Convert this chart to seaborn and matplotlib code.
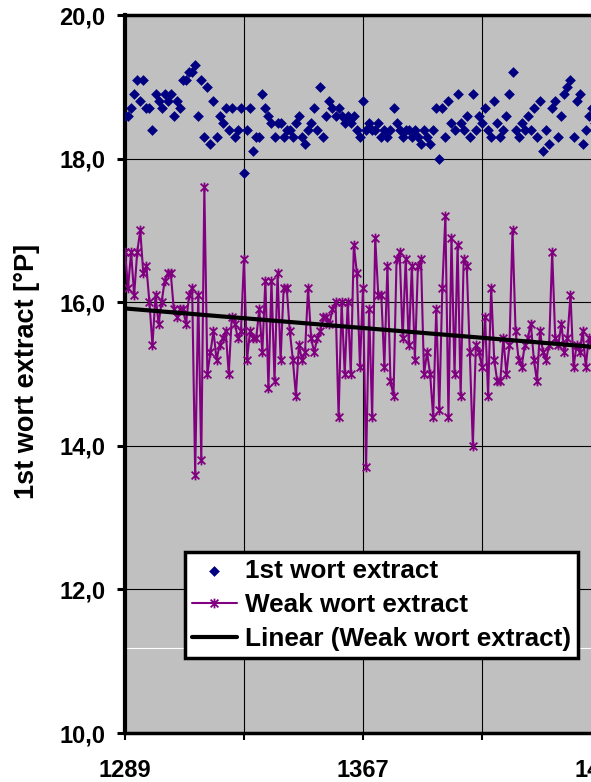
import numpy as np
import pandas as pd
import matplotlib
matplotlib.use("Agg")
import matplotlib.pyplot as plt
from matplotlib.path import Path
from matplotlib.ticker import FixedLocator, FixedFormatter
import seaborn as sns

# ---------------- data ----------------
batch_start = 1289
first_wort = [
    18.6, 18.6, 18.7, 18.9, 19.1, 18.8, 19.1, 18.7, 18.7, 18.4,
    18.9, 18.8, 18.7, 18.9, 18.8, 18.9, 18.6, 18.8, 18.7, 19.1,
    19.1, 19.2, 19.2, 19.3, 18.6, 19.1, 18.3, 19.0, 18.2, 18.8,
    18.3, 18.6, 18.5, 18.7, 18.4, 18.7, 18.3, 18.4, 18.7, 17.8,
    18.4, 18.7, 18.1, 18.3, 18.3, 18.9, 18.7, 18.6, 18.5, 18.3,
    18.5, 18.5, 18.3, 18.4, 18.4, 18.3, 18.5, 18.6, 18.3, 18.2,
    18.4, 18.5, 18.7, 18.4, 19.0, 18.3, 18.6, 18.8, 18.7, 18.6,
    18.7, 18.6, 18.5, 18.6, 18.5, 18.6, 18.4, 18.3, 18.8, 18.4,
    18.5, 18.4, 18.4, 18.5, 18.3, 18.4, 18.3, 18.4, 18.7, 18.5,
    18.4, 18.3, 18.4, 18.4, 18.3, 18.4, 18.3, 18.2, 18.4, 18.3,
    18.2, 18.4, 18.7, 18.0, 18.7, 18.3, 18.8, 18.5, 18.4, 18.9,
    18.5, 18.4, 18.6, 18.3, 18.9, 18.4, 18.6, 18.5, 18.7, 18.4,
    18.3, 18.8, 18.5, 18.3, 18.4, 18.6, 18.9, 19.2, 18.4, 18.3,
    18.5, 18.4, 18.6, 18.4, 18.7, 18.3, 18.8, 18.1, 18.4, 18.2,
    18.7, 18.8, 18.3, 18.6, 18.9, 19.0, 19.1, 18.3, 18.8, 18.9,
    18.2, 18.4, 18.6, 18.7, 18.5, 18.3, 18.6,
]
weak_wort = [
    16.7, 16.2, 16.7, 16.1, 16.7, 17.0, 16.4, 16.5, 16.0, 15.4,
    16.1, 15.7, 16.0, 16.3, 16.4, 16.4, 15.9, 15.8, 15.9, 15.9,
    15.7, 16.1, 16.2, 13.6, 16.1, 13.8, 17.6, 15.0, 15.3, 15.6,
    15.2, 15.4, 15.5, 15.6, 15.0, 15.8, 15.7, 15.5, 15.6, 16.6,
    15.2, 15.6, 15.5, 15.5, 15.9, 15.3, 16.3, 14.8, 16.3, 14.9,
    16.4, 15.2, 16.2, 16.2, 15.6, 15.2, 14.7, 15.4, 15.2, 15.3,
    16.2, 15.5, 15.3, 15.5, 15.6, 15.8, 15.8, 15.7, 15.9, 16.0,
    14.4, 16.0, 15.0, 16.0, 15.0, 16.8, 16.4, 15.1, 16.2, 13.7,
    15.9, 14.4, 16.9, 16.1, 16.1, 15.1, 16.5, 14.9, 14.7, 16.6,
    16.7, 15.5, 16.6, 15.4, 16.5, 15.2, 16.5, 16.6, 15.0, 15.3,
    15.0, 14.4, 15.9, 14.5, 16.2, 17.2, 14.4, 16.9, 15.0, 16.8,
    14.7, 16.6, 16.5, 15.3, 14.0, 15.4, 15.3, 15.1, 15.8, 14.7,
    16.2, 15.2, 14.9, 14.9, 15.5, 15.0, 15.4, 17.0, 15.6, 15.2,
    15.1, 15.4, 15.5, 15.7, 15.2, 14.9, 15.6, 15.3, 15.2, 15.4,
    16.7, 15.5, 15.4, 15.7, 15.3, 15.5, 16.1, 15.1, 15.4, 15.3,
    15.6, 15.1, 15.5, 15.4, 15.2, 15.5, 15.3,
]
x_major_ticks = [1289, 1367, 1445]
x_minor_ticks = [1328, 1406, 1484]
y_ticks = [10, 12, 14, 16, 18, 20]
y_tick_labels = ["10,0", "12,0", "14,0", "16,0", "18,0", "20,0"]
series_labels = ["1st wort extract", "Weak wort extract", "Linear (Weak wort extract)"]
y_label = "1st wort extract [°P]"

batch = np.arange(batch_start, batch_start + len(first_wort))
df = pd.DataFrame({"batch": batch, "first": first_wort, "weak": weak_wort})

# ---------------- style ----------------
sns.set_theme(style="white")
plt.rcParams["font.family"] = ["Liberation Sans", "DejaVu Sans"]
plt.rcParams["font.weight"] = "bold"
plt.rcParams["text.color"] = "black"

W, H = 591, 782
fig = plt.figure(figsize=(W / 100, H / 100), dpi=100)
px_per_unit = (363 - 125) / 78.0
xmin, xmax = 1289, 1523
ax_w = (xmax - xmin) * px_per_unit
ax = fig.add_axes([125 / W, 1 - 733 / H, ax_w / W, (733 - 15) / H])
ax.set_facecolor("#C0C0C0")

# asterisk-like star marker (X plus vertical bar)
star = Path([(-1, -1), (1, 1), (-1, 1), (1, -1), (0, -1.25), (0, 1.25)],
            [Path.MOVETO, Path.LINETO, Path.MOVETO, Path.LINETO, Path.MOVETO, Path.LINETO])

sns.scatterplot(data=df, x="batch", y="first", marker="D", s=30, color="#000080",
                edgecolor="#000080", linewidth=0, ax=ax, label=series_labels[0], zorder=3)
sns.lineplot(data=df, x="batch", y="weak", color="#800080", lw=1.5, marker=star,
             markersize=7, markeredgewidth=1.3, markeredgecolor="#800080",
             ax=ax, label=series_labels[1], zorder=4)
sns.regplot(data=df, x="batch", y="weak", scatter=False, ci=None, ax=ax, truncate=True,
            label=series_labels[2], line_kws=dict(color="black", lw=3, zorder=5))

ax.axhline(11.18, color="white", lw=0.8, zorder=1)

ax.set_xlim(xmin, xmax)
ax.set_ylim(10, 20)
ax.xaxis.set_major_locator(FixedLocator(x_major_ticks))
ax.xaxis.set_minor_locator(FixedLocator(x_minor_ticks))
ax.set_xticklabels([str(v) for v in x_major_ticks])
ax.yaxis.set_major_locator(FixedLocator(y_ticks))
ax.yaxis.set_major_formatter(FixedFormatter(y_tick_labels))

ax.grid(True, which="both", color="black", lw=0.8)
ax.set_axisbelow(True)

for side in ["left", "top", "bottom", "right"]:
    ax.spines[side].set_color("black")
ax.spines["left"].set_linewidth(3)
ax.spines["top"].set_linewidth(2.5)
ax.spines["bottom"].set_linewidth(2.5)
ax.spines["right"].set_linewidth(2.5)

ax.tick_params(axis="y", which="major", direction="out", length=6, width=2.2,
               labelsize=17, pad=8, left=True, colors="black")
ax.tick_params(axis="x", which="both", direction="out", length=5, width=1.5,
               labelsize=17, pad=14, bottom=True, colors="black")
for t in ax.get_xticklabels() + ax.get_yticklabels():
    t.set_fontweight("bold")

ax.set_xlabel("")
ax.set_ylabel(y_label, fontsize=19.5, fontweight="bold", color="black")
ax.yaxis.set_label_coords(40 / W, 1 - 371 / H, transform=fig.transFigure)

handles, labels = ax.get_legend_handles_labels()
hmap = dict(zip(labels, handles))
if series_labels[2] not in hmap:
    hmap[series_labels[2]] = ax.lines[-2]
leg = ax.legend([hmap[l] for l in series_labels], series_labels,
                loc="upper left", bbox_to_anchor=(185 / W, 1 - 552 / H),
                bbox_transform=fig.transFigure, borderaxespad=0,
                frameon=True, fancybox=False, framealpha=1, edgecolor="black",
                facecolor="white", prop={"size": 18.8, "weight": "bold"},
                borderpad=0.25, labelspacing=0.4, handlelength=1.75, handletextpad=0.3,
                labelcolor="black")
leg.get_frame().set_linewidth(2.5)
leg.set_zorder(10)

fig.savefig("out.png", dpi=100)
